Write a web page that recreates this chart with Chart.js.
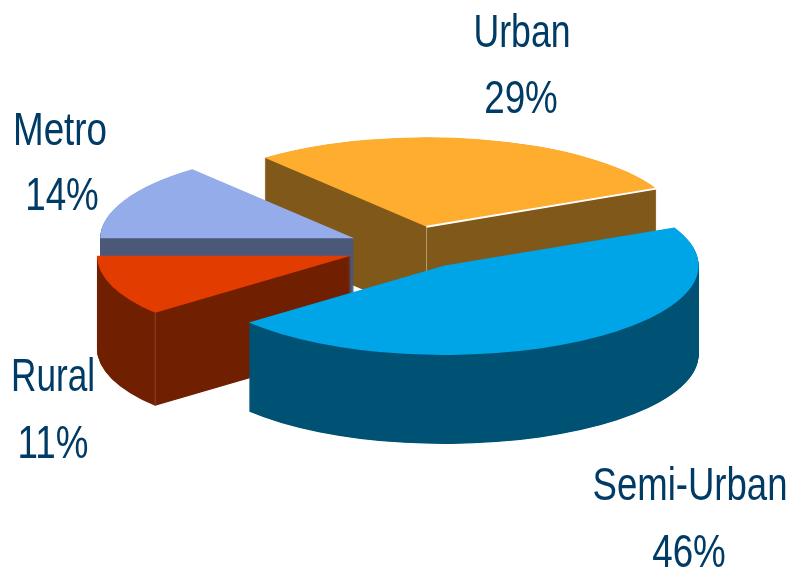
<!DOCTYPE html>
<html>
<head>
<meta charset="utf-8">
<title>Branch network by centre type</title>
<style>
  html, body { margin: 0; padding: 0; background: #fff; }
  canvas { display: block; }
</style>
<script src="https://cdn.jsdelivr.net/npm/chart.js@4"></script>
</head>
<body>
<canvas id="pie" width="792" height="571"></canvas>
<script>
// Centre types, clockwise starting from the left of the pie, and their shares in percent.
const categories = ['Metro', 'Urban', 'Semi-Urban', 'Rural'];
const shares = [14, 29, 46, 11];

// Slice styling.
const topColors = ['#94ACEA', '#FFAD2E', '#00A5E8', '#E23C00'];
const sideColors = ['#4C5878', '#80581A', '#005275', '#702000'];
const explode = [65, 62, 59, 66];   // how far each slice is pulled out of the pie, in pie-plane px
const depths = [90, 90, 89, 93];    // wall height of each slice, px
const paintOrder = [1, 0, 3, 2];    // back to front
const TILT = 0.352;                 // vertical squash of the pie plane
const WALL_STEP = 0.5;              // spacing of the stacked arcs that form a wall

// Label placement: x centre of each line, baselines, squeezed width of the name.
const labelLayout = [
  { x: 60,  valueX: 62,  name: 145, value: 210, width: 94 },
  { x: 522, valueX: 521, name: 47,  value: 113, width: 97 },
  { x: 690, valueX: 689, name: 500, value: 567, width: 195 },
  { x: 53,  valueX: 53,  name: 391, value: 458, width: 84 }
];
const labelFont = '46px "Liberation Sans"';
const labelColor = '#003B66';
const labelSqueeze = 0.8;

// Draws one arc with a substitute fill, leaving the element's geometry untouched.
function drawArcAs(arc, ctx, color) {
  const stand = Object.create(arc);
  Object.defineProperty(stand, 'options', {
    value: {
      backgroundColor: color, borderColor: color, borderWidth: 0, borderAlign: 'center',
      borderRadius: 0, borderJoinStyle: 'round', offset: 0, spacing: 0, circular: true
    }
  });
  stand.draw(ctx);
}

// Solid wedges: each wall silhouette is stacked on a scratch layer and flooded with one
// flat colour so repeated edge blending cannot streak it, then the top face goes on.
const solidPie = {
  id: 'solidPie',
  beforeDatasetDraw(chart, args) {
    const ctx = chart.ctx;
    const arcs = chart.getDatasetMeta(args.index).data;
    const layer = document.createElement('canvas');
    layer.width = chart.width;
    layer.height = chart.height;
    const wallCtx = layer.getContext('2d');

    const place = (target, arc, i, drop) => {
      const mid = (arc.startAngle + arc.endAngle) / 2;
      target.translate(arc.x, arc.y + drop);
      target.scale(1, TILT);
      target.translate(-arc.x, -arc.y);
      target.translate(Math.cos(mid) * explode[i], Math.sin(mid) * explode[i]);
    };
    // Screen position of a rim point (r = 1) or the apex (r = 0) of a slice.
    const onScreen = (arc, i, angle, r) => {
      const mid = (arc.startAngle + arc.endAngle) / 2;
      const px = Math.cos(mid) * explode[i] + Math.cos(angle) * arc.outerRadius * r;
      const py = Math.sin(mid) * explode[i] + Math.sin(angle) * arc.outerRadius * r;
      return { x: arc.x + px, y: arc.y + py * TILT };
    };
    const line = (a, b, color, width) => {
      ctx.save();
      ctx.strokeStyle = color;
      ctx.lineWidth = width;
      ctx.beginPath();
      ctx.moveTo(a.x, a.y);
      ctx.lineTo(b.x, b.y);
      ctx.stroke();
      ctx.restore();
    };

    paintOrder.forEach((i) => {
      const arc = arcs[i];

      wallCtx.globalCompositeOperation = 'source-over';
      wallCtx.clearRect(0, 0, layer.width, layer.height);
      for (let d = depths[i]; d > 0; d -= WALL_STEP) {
        wallCtx.save();
        place(wallCtx, arc, i, d);
        drawArcAs(arc, wallCtx, '#000');
        wallCtx.restore();
      }
      wallCtx.globalCompositeOperation = 'source-in';
      wallCtx.fillStyle = sideColors[i];
      wallCtx.fillRect(0, 0, layer.width, layer.height);
      ctx.drawImage(layer, 0, 0);

      ctx.save();
      place(ctx, arc, i, 0);
      drawArcAs(arc, ctx, topColors[i]);
      ctx.restore();

      // Highlights along the folded edges of the Urban and Rural wedges.
      if (categories[i] === 'Urban') {
        const apex = onScreen(arc, i, 0, 0);
        const rim = onScreen(arc, i, arc.endAngle, 1);
        line(apex, { x: apex.x, y: apex.y + 47 }, '#B89A6A', 1);
        line(apex, rim, '#FFFFFF', 2);
      }
      if (categories[i] === 'Rural') {
        const corner = onScreen(arc, i, arc.startAngle, 1);
        line(corner, { x: corner.x, y: corner.y + depths[i] }, '#8A4530', 1);
      }
    });
    return false;
  },
  afterDraw(chart) {
    const ctx = chart.ctx;
    ctx.save();
    ctx.font = labelFont;
    ctx.fillStyle = labelColor;
    ctx.textAlign = 'center';
    ctx.textBaseline = 'alphabetic';
    categories.forEach((name, i) => {
      const spot = labelLayout[i];
      ctx.fillText(name, spot.x, spot.name, spot.width);
      const text = shares[i] + '%';
      ctx.fillText(text, spot.valueX, spot.value, ctx.measureText(text).width * labelSqueeze);
    });
    ctx.restore();
  }
};

new Chart(document.getElementById('pie'), {
  type: 'pie',
  data: {
    labels: categories,
    datasets: [{ data: shares, backgroundColor: topColors, borderWidth: 0 }]
  },
  options: {
    responsive: false,
    animation: false,
    rotation: 270,
    radius: 254,
    layout: { padding: { left: 34, bottom: 75 } },
    plugins: { legend: { display: false }, tooltip: { enabled: false } },
    events: []
  },
  plugins: [solidPie]
});
</script>
</body>
</html>
